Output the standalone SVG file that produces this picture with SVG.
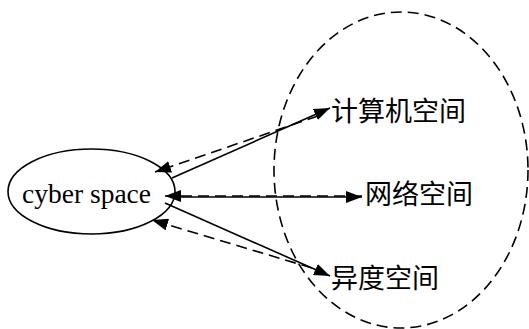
<svg xmlns="http://www.w3.org/2000/svg" width="529" height="329" viewBox="0 0 529 329">
<style>
.bg{fill:#fff}
.solid{fill:none;stroke:#000;stroke-width:1.6}
.dash{fill:none;stroke:#000;stroke-width:1.6;stroke-dasharray:11 6}
.zh{font-family:"Noto Sans CJK SC","Noto Sans",sans-serif;font-size:27px;fill:#000}
.en{font-family:"Liberation Serif","Times New Roman",serif;font-size:27.5px;fill:#000}
</style>
<defs>
<marker id="ah" markerUnits="userSpaceOnUse" viewBox="0 0 16 12" markerWidth="16" markerHeight="12" refX="16" refY="6" orient="auto">
<path d="M0,0 L16,6 L0,12 z" fill="#000"/>
</marker>
</defs>
<rect class="bg" x="0" y="0" width="529" height="329"/>
<g id="cyberspace-region">
<ellipse class="dash" cx="401" cy="170" rx="127" ry="158"/>
</g>
<g id="cyber-space">
<ellipse class="solid" cx="91.5" cy="191.5" rx="83.5" ry="42.5"/>
<text class="en" x="22" y="203">cyber space</text>
</g>
<g id="computer-space">
<text class="zh" x="331" y="121">计算机空间</text>
</g>
<g id="network-space">
<text class="zh" x="365" y="204">网络空间</text>
</g>
<g id="alien-space">
<text class="zh" x="331" y="288">异度空间</text>
</g>
<g id="connectors">
<line class="solid" x1="172" y1="178" x2="330" y2="108" marker-end="url(#ah)"/>
<line class="dash" x1="318" y1="116" x2="155" y2="172" marker-end="url(#ah)"/>
<line class="solid" x1="172" y1="197" x2="362" y2="197" marker-end="url(#ah)"/>
<line class="dash" x1="362" y1="196" x2="165" y2="196" marker-end="url(#ah)"/>
<line class="solid" x1="165" y1="203" x2="330" y2="276" marker-end="url(#ah)"/>
<line class="dash" x1="312" y1="268" x2="152" y2="220" marker-end="url(#ah)"/>
</g>
</svg>
